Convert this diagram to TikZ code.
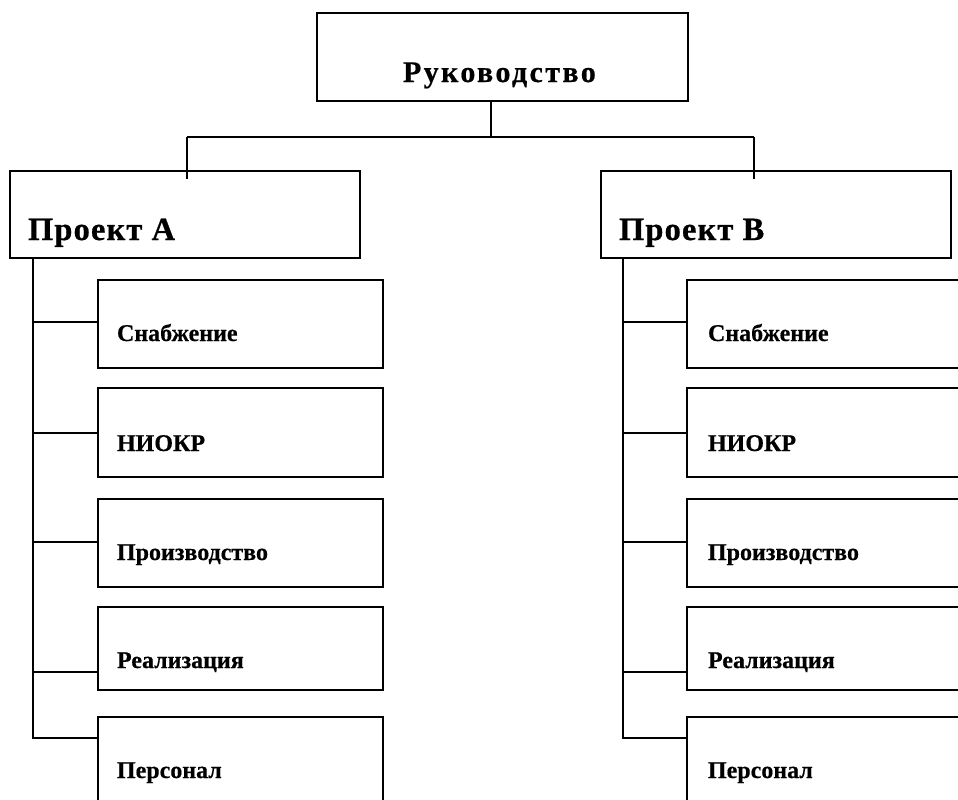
\documentclass[tikz,border=0pt]{standalone}
\usepackage{fontspec}
\setmainfont{Liberation Serif}
\begin{document}
\begin{tikzpicture}[x=1pt,y=-1pt,
  box/.style={draw, line width=1.5pt, outer sep=0pt, inner sep=0pt, anchor=north west},
  wire/.style={draw, line width=1.4pt},
  lbl/.style={anchor=base west, inner sep=0pt, outer sep=0pt},
  toptxt/.style={lbl, font=\fontsize{30}{32}\selectfont\bfseries\addfontfeature{LetterSpace=8,FakeBold=0.6}},
  projtxt/.style={lbl, font=\fontsize{32.5}{34}\selectfont\bfseries\addfontfeature{LetterSpace=3.5,FakeBold=0.6}},
  subtxt/.style={lbl, font=\fontsize{24}{26}\selectfont\bfseries\addfontfeature{FakeBold=0.5}}]
\path[use as bounding box, clip] (0,0) rectangle (958,800);

% top
\node[box, minimum width=371pt, minimum height=88pt] (top) at (317,13) {};
\node[toptxt] (toptext) at (403,82) {Руководство};

% projects
\node[box, minimum width=350pt, minimum height=87pt] (pa) at (10,171) {};
\node[projtxt] (patext) at (28,240) {Проект А};
\node[box, minimum width=350pt, minimum height=87pt] (pb) at (601,171) {};
\node[projtxt] (pbtext) at (619,240) {Проект В};

% children A
\node[box, minimum width=285pt, minimum height=88pt] (a1) at (98,280) {};
\node[subtxt] (a1t) at (117,341) {Снабжение};
\node[box, minimum width=285pt, minimum height=89pt] (a2) at (98,388) {};
\node[subtxt] (a2t) at (117,451) {НИОКР};
\node[box, minimum width=285pt, minimum height=88pt] (a3) at (98,499) {};
\node[subtxt] (a3t) at (117,560) {Производство};
\node[box, minimum width=285pt, minimum height=83pt] (a4) at (98,607) {};
\node[subtxt] (a4t) at (117,668) {Реализация};
\node[box, minimum width=285pt, minimum height=100pt] (a5) at (98,717) {};
\node[subtxt] (a5t) at (117,778) {Персонал};

% children B
\node[box, minimum width=285pt, minimum height=88pt] (b1) at (687,280) {};
\node[subtxt] (b1t) at (708,341) {Снабжение};
\node[box, minimum width=285pt, minimum height=89pt] (b2) at (687,388) {};
\node[subtxt] (b2t) at (708,451) {НИОКР};
\node[box, minimum width=285pt, minimum height=88pt] (b3) at (687,499) {};
\node[subtxt] (b3t) at (708,560) {Производство};
\node[box, minimum width=285pt, minimum height=83pt] (b4) at (687,607) {};
\node[subtxt] (b4t) at (708,668) {Реализация};
\node[box, minimum width=285pt, minimum height=100pt] (b5) at (687,717) {};
\node[subtxt] (b5t) at (708,778) {Персонал};

% top connectors
\coordinate (j) at (491,137);
\coordinate (ja) at (187,137);
\coordinate (jb) at (754,137);
\draw[wire] (top.south west -| j) -- (j);
\draw[wire] (ja) -- (jb);
\draw[wire] (ja) -- (pa.north -| ja) -- ++(0,8);
\draw[wire] (jb) -- (pb.north -| jb) -- ++(0,8);

% bus A
\coordinate (busa) at (33,258);
\coordinate (ca1) at (33,322);
\coordinate (ca2) at (33,433);
\coordinate (ca3) at (33,542);
\coordinate (ca4) at (33,672);
\coordinate (ca5) at (33,738);
\draw[wire] (busa) -- (ca5) -- (a5.west |- ca5);
\draw[wire] (ca1) -- (a1.west |- ca1);
\draw[wire] (ca2) -- (a2.west |- ca2);
\draw[wire] (ca3) -- (a3.west |- ca3);
\draw[wire] (ca4) -- (a4.west |- ca4);

% bus B
\coordinate (busb) at (623,258);
\coordinate (cb1) at (623,322);
\coordinate (cb2) at (623,433);
\coordinate (cb3) at (623,542);
\coordinate (cb4) at (623,672);
\coordinate (cb5) at (623,738);
\draw[wire] (busb) -- (cb5) -- (b5.west |- cb5);
\draw[wire] (cb1) -- (b1.west |- cb1);
\draw[wire] (cb2) -- (b2.west |- cb2);
\draw[wire] (cb3) -- (b3.west |- cb3);
\draw[wire] (cb4) -- (b4.west |- cb4);
\end{tikzpicture}
\end{document}
